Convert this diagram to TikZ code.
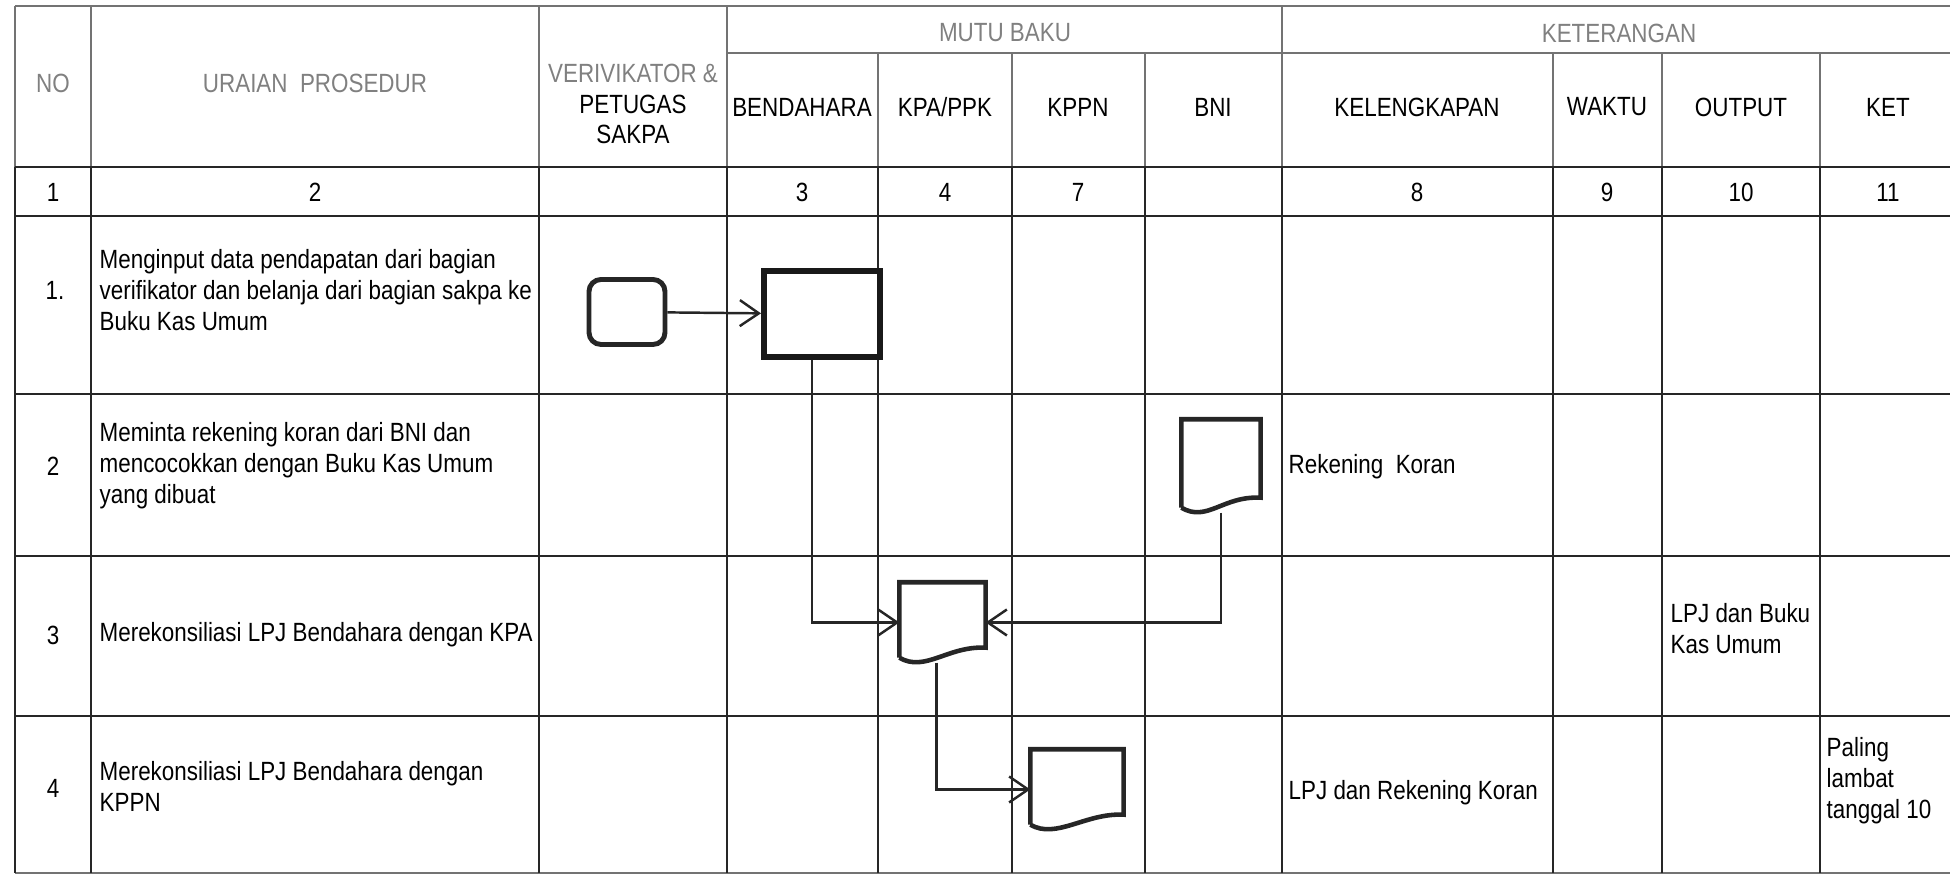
\documentclass[tikz,border=0pt]{standalone}
\usepackage{fontspec}
\setmainfont{Liberation Sans}[FakeStretch=0.85]
\usetikzlibrary{arrows.meta}

% wavy bottom of a document symbol, drawn round a named node
\newcommand{\docoutline}[1]{%
    \draw[docline] ([yshift=0.05cm]#1.south west) -- (#1.north west) -- (#1.north east)
        -- ([yshift=0.15cm]#1.south east)
        .. controls ([xshift=-0.38cm,yshift=0.17cm]#1.south east) and ([xshift=0.26cm,yshift=-0.1cm]#1.south west) .. ([yshift=0.05cm]#1.south west);}

\begin{document}
\begin{tikzpicture}[
        every node/.style = {inner sep=0pt, font=\fontsize{7.5}{8.8}\selectfont},
        head/.style = {text=black!50},
        title/.style = {align=center},
        cell/.style = {anchor=west, align=left},
        gridline/.style = {line width=0.75pt, draw=black!85},
        headline/.style = {line width=0.55pt, draw=black!55},
        startbox/.style = {draw=black!85, rounded corners=0.12cm, line width=1.4pt, minimum width=0.76cm, minimum height=0.65cm},
        process/.style = {draw=black!90, line width=1.7pt, minimum width=1.16cm, minimum height=0.86cm},
        doc/.style = {minimum width=0.85cm, minimum height=0.79cm},
        docline/.style = {draw=black!85, line width=1.3pt},
        arrow/.style = {-{Straight Barb[length=0.19cm, width=0.26cm]}, line width=0.7pt, draw=black!85}
    ]

    \useasboundingbox (0,0) rectangle (19.5,-8.76);

    % Kepala tabel
    \draw[headline] (0.15,-0.06) -- (19.5,-0.06);
    \draw[headline] (7.27,-0.53) -- (19.5,-0.53);
    \draw[headline] (0.15,-0.06) -- (0.15,-1.67);
    \draw[headline] (0.91,-0.06) -- (0.91,-1.67);
    \draw[headline] (5.39,-0.06) -- (5.39,-1.67);
    \draw[headline] (7.27,-0.06) -- (7.27,-1.67);
    \draw[headline] (12.82,-0.06) -- (12.82,-1.67);
    \draw[headline] (8.78,-0.53) -- (8.78,-1.67);
    \draw[headline] (10.12,-0.53) -- (10.12,-1.67);
    \draw[headline] (11.45,-0.53) -- (11.45,-1.67);
    \draw[headline] (15.53,-0.53) -- (15.53,-1.67);
    \draw[headline] (16.62,-0.53) -- (16.62,-1.67);
    \draw[headline] (18.20,-0.53) -- (18.20,-1.67);

    % Badan tabel
    \draw[gridline] (0.15,-1.67) -- (19.5,-1.67);
    \draw[gridline] (0.15,-2.16) -- (19.5,-2.16);
    \draw[gridline] (0.15,-3.94) -- (19.5,-3.94);
    \draw[gridline] (0.15,-5.56) -- (19.5,-5.56);
    \draw[gridline] (0.15,-7.16) -- (19.5,-7.16);
    \draw[headline] (0.15,-8.73) -- (19.5,-8.73);
    \draw[gridline] (0.15,-1.67) -- (0.15,-8.73);
    \draw[gridline] (0.91,-1.67) -- (0.91,-8.73);
    \draw[gridline] (5.39,-1.67) -- (5.39,-8.73);
    \draw[gridline] (7.27,-1.67) -- (7.27,-8.73);
    \draw[gridline] (8.78,-1.67) -- (8.78,-8.73);
    \draw[gridline] (10.12,-1.67) -- (10.12,-8.73);
    \draw[gridline] (11.45,-1.67) -- (11.45,-8.73);
    \draw[gridline] (12.82,-1.67) -- (12.82,-8.73);
    \draw[gridline] (15.53,-1.67) -- (15.53,-8.73);
    \draw[gridline] (16.62,-1.67) -- (16.62,-8.73);
    \draw[gridline] (18.20,-1.67) -- (18.20,-8.73);

    % Judul kolom
    \node[head] (hNo) at (0.53,-0.83) {NO};
    \node[head] (hUraian) at (3.15,-0.83) {URAIAN~~PROSEDUR};
    \node[title] (hVerif) at (6.33,-1.04) {\textcolor{black!50}{VERIVIKATOR \&}\\PETUGAS\\SAKPA};
    \node[head] (hMutu) at (10.05,-0.33) {MUTU BAKU};
    \node[head] (hKet) at (16.19,-0.33) {KETERANGAN};
    \node (hBend) at (8.02,-1.07) {BENDAHARA};
    \node (hKpa) at (9.45,-1.07) {KPA/PPK};
    \node (hKppn) at (10.78,-1.07) {KPPN};
    \node (hBni) at (12.13,-1.07) {BNI};
    \node (hLengkap) at (14.17,-1.07) {KELENGKAPAN};
    \node (hWaktu) at (16.07,-1.07) {WAKTU};
    \node (hOutput) at (17.41,-1.07) {OUTPUT};
    \node (hKetCol) at (18.88,-1.07) {KET};

    % Nomor kolom
    \node (n1) at (0.53,-1.92) {1};
    \node (n2) at (3.15,-1.92) {2};
    \node (n3) at (8.02,-1.92) {3};
    \node (n4) at (9.45,-1.92) {4};
    \node (n7) at (10.78,-1.92) {7};
    \node (n8) at (14.17,-1.92) {8};
    \node (n9) at (16.07,-1.92) {9};
    \node (n10) at (17.41,-1.92) {10};
    \node (n11) at (18.88,-1.92) {11};

    % Uraian prosedur
    \node (no1) at (0.55,-2.90) {1.};
    \node[cell] (step1) at (0.99,-2.90) {Menginput data pendapatan dari bagian\\verifikator dan belanja dari bagian sakpa ke\\Buku Kas Umum};
    \node (no2) at (0.53,-4.66) {2};
    \node[cell] (step2) at (0.99,-4.66) {Meminta rekening koran dari BNI dan\\mencocokkan dengan Buku Kas Umum\\yang dibuat};
    \node (no3) at (0.53,-6.35) {3};
    \node[cell] (step3) at (0.99,-6.35) {Merekonsiliasi LPJ Bendahara dengan KPA};
    \node (no4) at (0.53,-7.88) {4};
    \node[cell] (step4) at (0.99,-7.86) {Merekonsiliasi LPJ Bendahara dengan\\KPPN};

    % Keterangan
    \node[cell] (ket2) at (12.88,-4.67) {Rekening~~Koran};
    \node[cell] (out3) at (16.70,-6.29) {LPJ dan Buku\\Kas Umum};
    \node[cell] (ket4) at (12.88,-7.93) {LPJ dan Rekening Koran};
    \node[cell] (note4) at (18.26,-7.81) {Paling\\lambat\\tanggal 10};

    % Simbol alur
    \node[startbox] (mulai) at (6.27,-3.12) {};
    \node[process] (bku) at (8.22,-3.14) {};
    \node[doc, minimum width=0.78cm, minimum height=0.92cm] (rekkoran) at (12.21,-4.66) {};
    \node[doc] (lpjkpa) at (9.425,-6.225) {};
    \node[doc, minimum width=0.92cm, minimum height=0.79cm] (lpjkppn) at (10.77,-7.895) {};
    \docoutline{rekkoran}
    \docoutline{lpjkpa}
    \docoutline{lpjkppn}

    \draw[arrow] (mulai) -- (bku);
    \draw[arrow] ([xshift=-0.1cm]bku.south) |- (lpjkpa.west);
    \draw[arrow] (rekkoran.south) |- (lpjkpa.east);
    \draw[arrow] ([xshift=-0.06cm]lpjkpa.south) |- (lpjkppn.west);

\end{tikzpicture}
\end{document}
